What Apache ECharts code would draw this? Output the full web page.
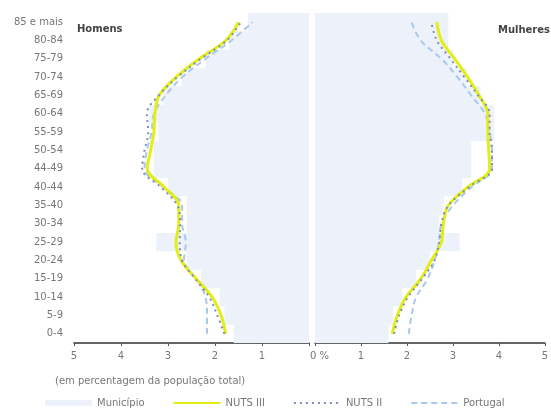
<!DOCTYPE html>
<html><head><meta charset="utf-8">
<script src="https://cdn.jsdelivr.net/npm/echarts@6/dist/echarts.min.js"></script>
<style>html,body{margin:0;padding:0;background:#fff}#c{width:551px;height:412px}</style>
</head><body><div id="c"></div>
<script>
// categories bottom -> top
const ageGroups = ["0-4","5-9","10-14","15-19","20-24","25-29","30-34","35-40","40-44","44-49","50-54","55-59","60-64","65-69","70-74","75-79","80-84","85 e mais"];
const xTicks = [0,1,2,3,4,5];
// Homens (men)
const menMunicipio = [1.6,1.8,1.9,2.3,2.6,3.25,2.6,2.6,3.0,3.3,3.3,3.2,3.4,3.1,2.7,2.2,1.7,1.3];
const menNuts3     = [1.77,1.87,2.06,2.4,2.72,2.83,2.77,2.77,3.08,3.44,3.37,3.3,3.28,3.19,2.83,2.34,1.77,1.5];
const menNuts2     = [1.8,1.95,2.12,2.42,2.7,2.75,2.74,2.8,3.15,3.55,3.5,3.42,3.45,3.2,2.8,2.3,1.75,1.45];
const menPortugal  = [2.17,2.17,2.2,2.4,2.66,2.62,2.7,2.7,3.1,3.5,3.45,3.35,3.3,3.05,2.7,2.2,1.65,1.2];
// Mulheres (women)
const womenMunicipio = [1.6,1.7,1.9,2.2,2.5,3.15,2.7,2.8,3.2,3.4,3.4,3.9,3.9,3.6,3.3,3.0,2.9,2.9];
const womenNuts3     = [1.68,1.79,1.98,2.3,2.53,2.75,2.79,2.9,3.32,3.8,3.78,3.76,3.76,3.57,3.32,3.04,2.75,2.65];
const womenNuts2     = [1.72,1.83,2.02,2.33,2.6,2.7,2.75,2.9,3.35,3.85,3.85,3.8,3.8,3.55,3.25,2.95,2.65,2.53];
const womenPortugal  = [2.04,2.1,2.2,2.45,2.6,2.7,2.75,3.0,3.4,3.85,3.85,3.8,3.7,3.4,3.1,2.75,2.3,2.1];

const FONT = 'DejaVu Sans';
const C_MUN = '#edf1f9', C_N3 = '#e3ee14', C_N2 = '#7d8cc0', C_PT = '#a9c8ec';

function pairs(vals){ return vals.map((v,i)=>[v, ageGroups[i]]); }

const chart = echarts.init(document.getElementById('c'), null, {renderer:'canvas'});
function xAxisCfg(grid, inverse){
  return {
    type:'value', gridIndex:grid, min:xTicks[0], max:xTicks[xTicks.length-1], interval:1, inverse:inverse,
    splitLine:{show:false},
    axisLine:{show:true, lineStyle:{color:'#333', width:1.5}},
    axisTick:{show:true, length:3, lineStyle:{color:'#555'}},
    axisLabel:{
      color:'#777', fontFamily:FONT, fontSize:10, margin:8,
      formatter: inverse ? (v)=> v===0 ? '' : String(v)
                         : (v)=> v===0 ? '{z|0 %}' : String(v),
      rich:{z:{color:'#777', fontFamily:FONT, fontSize:10, padding:[0,0,0,9]}}
    }
  };
}
function yAxisCfg(grid, showLabels){
  return {
    type:'category', gridIndex:grid, data:ageGroups, boundaryGap:true,
    axisLine:{show:false}, axisTick:{show:false}, splitLine:{show:false},
    axisLabel:{show:showLabels, color:'#777', fontFamily:FONT, fontSize:10, margin:11}
  };
}
function lineSeries(name, vals, grid, color, width, type){
  return {
    name, type:'line', xAxisIndex:grid, yAxisIndex:grid, data:pairs(vals),
    smooth:0.35, symbol:'none', z:3,
    lineStyle:{color, width, type}, itemStyle:{color}
  };
}
chart.setOption({
  animation:false,
  backgroundColor:'#fff',
  textStyle:{fontFamily:FONT},
  title:[
    {text:'Homens', left:72, top:19, textStyle:{fontFamily:FONT, fontSize:10, fontWeight:'bold', color:'#444'}},
    {text:'Mulheres', right:-4, top:20, textStyle:{fontFamily:FONT, fontSize:10, fontWeight:'bold', color:'#444'}},
    {text:'(em percentagem da população total)', left:50, top:371, textStyle:{fontFamily:FONT, fontSize:10, fontWeight:'normal', color:'#777'}}
  ],
  grid:[
    {left:74, width:235, top:13, height:330},
    {left:315, width:235, top:13, height:330}
  ],
  xAxis:[xAxisCfg(0,true), xAxisCfg(1,false)],
  yAxis:[yAxisCfg(0,true), yAxisCfg(1,false)],
  legend:{
    left:40, top:393, itemGap:28, itemWidth:47, itemHeight:6,
    textStyle:{color:'#777', fontFamily:FONT, fontSize:10, width:50},
    data:[
      {name:'Município', icon:'rect'},
      {name:'NUTS III', itemStyle:{opacity:0}},
      {name:'NUTS II', itemStyle:{opacity:0}},
      {name:'Portugal', itemStyle:{opacity:0}}
    ]
  },
  series:[
    {name:'Município', type:'bar', xAxisIndex:0, yAxisIndex:0, data:pairs(menMunicipio), barCategoryGap:'0%', itemStyle:{color:C_MUN}, z:1},
    {name:'Município', type:'bar', xAxisIndex:1, yAxisIndex:1, data:pairs(womenMunicipio), barCategoryGap:'0%', itemStyle:{color:C_MUN}, z:1},
    lineSeries('Portugal', menPortugal, 0, C_PT, 2, [6,4]),
    lineSeries('Portugal', womenPortugal, 1, C_PT, 2, [6,4]),
    lineSeries('NUTS III', menNuts3, 0, C_N3, 3, 'solid'),
    lineSeries('NUTS III', womenNuts3, 1, C_N3, 3, 'solid'),
    lineSeries('NUTS II', menNuts2, 0, C_N2, 2, [2,4]),
    lineSeries('NUTS II', womenNuts2, 1, C_N2, 2, [2,4])
  ]
});
</script></body></html>
